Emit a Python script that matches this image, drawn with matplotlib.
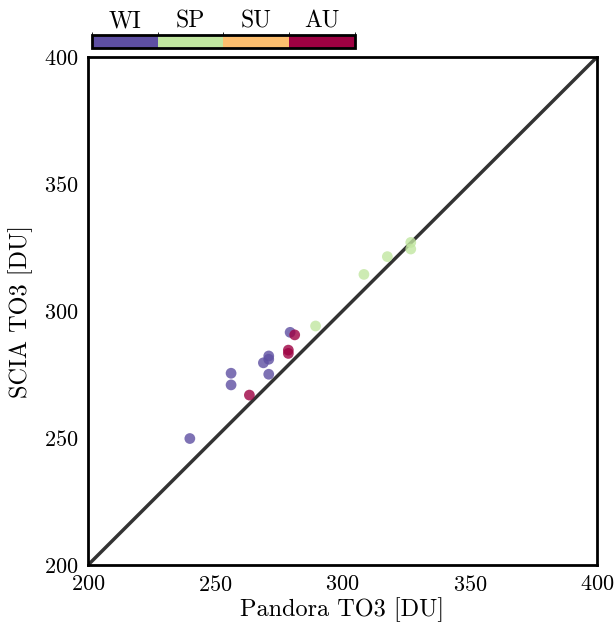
import matplotlib
matplotlib.use('Agg')
import matplotlib.pyplot as plt
import matplotlib.colors as mcolors
import matplotlib.colorbar as mcolorbar
import numpy as np

plt.rcParams['font.family'] = ['cmr10', 'DejaVu Serif']
plt.rcParams['axes.formatter.use_mathtext'] = True

# seasons
seasons = ['WI', 'SP', 'SU', 'AU']
season_colors = ['#5e4fa2', '#c1e6a0', '#fdbe6e', '#9e0142']

# Pandora vs SCIA total ozone
pandora = [240.0, 256.2, 256.2, 268.9, 271.0, 271.0, 271.0, 279.4,
           263.4, 278.7, 278.7, 281.2,
           289.4, 308.4, 317.6, 326.8, 326.8]
scia = [249.8, 275.5, 270.9, 279.6, 282.3, 281.0, 275.1, 291.6,
        266.9, 284.6, 283.3, 290.6,
        294.1, 314.4, 321.4, 327.0, 324.4]
season = [0, 0, 0, 0, 0, 0, 0, 0,
          3, 3, 3, 3,
          1, 1, 1, 1, 1]

fig = plt.figure(figsize=(6.16, 6.22), dpi=100)
ax = fig.add_axes([0.1429, 0.0916, 0.8264, 0.8168])

ax.plot([200, 400], [200, 400], color='#333333', lw=2.5, zorder=1)
cols = [season_colors[s] for s in season]
ax.scatter(pandora, scia, c=cols, s=60, edgecolors='none', alpha=0.8, zorder=2)

ax.set_xlim(200, 400)
ax.set_ylim(200, 400)
ax.set_xticks(np.arange(200, 401, 50))
ax.set_yticks(np.arange(200, 401, 50))
ax.tick_params(labelsize=16, length=0, pad=7)
ax.set_xlabel('Pandora TO3 [DU]', fontsize=17.5, labelpad=2)
ax.set_ylabel('SCIA TO3 [DU]', fontsize=17.5, labelpad=8)
for sp in ax.spines.values():
    sp.set_linewidth(2)

# season colorbar
cax = fig.add_axes([0.149, 0.923, 0.427, 0.021])
cmap = mcolors.ListedColormap(season_colors)
norm = mcolors.BoundaryNorm(np.arange(5), cmap.N)
cb = mcolorbar.ColorbarBase(cax, cmap=cmap, norm=norm, orientation='horizontal',
                            ticks=np.arange(4) + 0.5)
cb.set_ticklabels(seasons)
cax.xaxis.set_ticks_position('top')
cax.tick_params(labelsize=17, length=0, pad=2)
cb.outline.set_linewidth(2)

fig.savefig('out.png', dpi=100)
